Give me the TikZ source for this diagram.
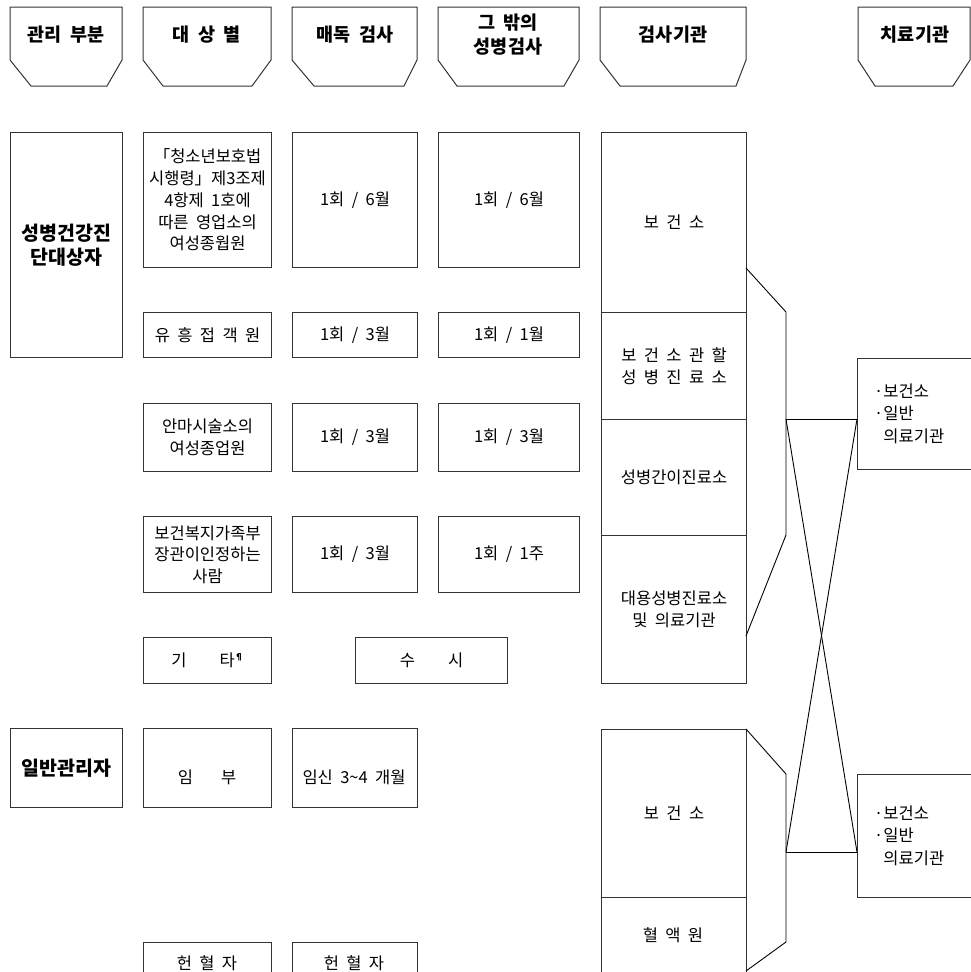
\documentclass[tikz,border=0pt]{standalone}
\usepackage{fontspec}
\setmainfont{Noto Sans CJK KR}[WordSpace=2.0]
\newcommand\hdrshape[4]{\draw[hdline] (#1,7) -- (#2,7) -- (#2,60) -- (#4,86) -- (#3,86) -- (#1,60) -- cycle;}
\begin{document}
\begin{tikzpicture}[x=1pt,y=-1pt,
  hdline/.style={draw=black!80, line width=1pt},
  bx/.style={draw=black!80, line width=1.1pt, inner sep=0pt, anchor=north west, align=center,
             font=\fontsize{16.5}{21.7}\selectfont},
  bbx/.style={bx, font=\bfseries\fontsize{19.5}{24}\selectfont},
  hd/.style={inner sep=0pt, align=center, font=\bfseries\fontsize{18.5}{24}\selectfont},
  tx/.style={inner sep=0pt, align=center, font=\fontsize{16.5}{21.7}\selectfont},
  conn/.style={draw=black, line width=0.9pt}]
\useasboundingbox (0,0) rectangle (971,972);

% headers
\hdrshape{10}{122}{31}{107}
\node[hd] (h1) at (66,35) {관리 부분};
\hdrshape{143}{271}{163}{252}
\node[hd] (h2) at (207,35) {대 상 별};
\hdrshape{292}{417}{314}{404}
\node[hd] (h3) at (355,35) {매독 검사};
\hdrshape{438}{579}{457}{564}
\node[hd] (h4) at (508,35) {그 밖의\\성병검사};
\hdrshape{600}{746}{620}{736}
\node[hd] (h5) at (673,35) {검사기관};
\hdrshape{858}{970}{875}{953}
\node[hd] (h6) at (915,35) {치료기관};

% management
\node[bbx, minimum width=112pt, minimum height=225pt] (m1) at (10,132) {성병건강진\\단대상자};
\node[bbx, minimum width=112pt, minimum height=79pt] (m2) at (10,728) {일반관리자};

% column: targets
\node[bx, minimum width=128pt, minimum height=135pt] (a1) at (143,132) {「청소년보호법\\시행령」제3조제\\4항제 1호에\\따른 영업소의\\여성종웝원};
\node[bx, minimum width=128pt, minimum height=45pt] (a2) at (143,312) {유 흥 접 객 원};
\node[bx, minimum width=128pt, minimum height=68pt] (a3) at (143,403) {안마시술소의\\여성종업원};
\node[bx, minimum width=128pt, minimum height=76pt] (a4) at (143,516) {보건복지가족부\\장관이인정하는\\사람};
\node[bx, minimum width=128pt, minimum height=46pt] (a5) at (143,637) {기\hspace{2em}타\raisebox{0.35em}{\fontsize{9}{9}\selectfont\bfseries ¶}};
\node[bx, minimum width=128pt, minimum height=79pt] (a6) at (143,728) {};
\node[tx] (a6t) at (207,777) {임\hspace{1.7em}부};
\node[bx, minimum width=128pt, minimum height=45pt] (a7) at (143,942) {};
\node[tx] (a7t) at (207,963) {헌 혈 자};

% column: syphilis
\node[bx, minimum width=125pt, minimum height=135pt] (b1) at (292,132) {1회 / 6월};
\node[bx, minimum width=125pt, minimum height=45pt] (b2) at (292,312) {1회 / 3월};
\node[bx, minimum width=125pt, minimum height=68pt] (b3) at (292,403) {1회 / 3월};
\node[bx, minimum width=125pt, minimum height=76pt] (b4) at (292,516) {1회 / 3월};
\node[bx, minimum width=125pt, minimum height=79pt] (b6) at (292,728) {};
\node[tx] (b6t) at (354,777) {임신 3\textasciitilde4 개월};
\node[bx, minimum width=125pt, minimum height=45pt] (b7) at (292,942) {};
\node[tx] (b7t) at (354,963) {헌 혈 자};

% column: other STD tests
\node[bx, minimum width=141pt, minimum height=135pt] (c1) at (438,132) {1회 / 6월};
\node[bx, minimum width=141pt, minimum height=45pt] (c2) at (438,312) {1회 / 1월};
\node[bx, minimum width=141pt, minimum height=68pt] (c3) at (438,403) {1회 / 3월};
\node[bx, minimum width=141pt, minimum height=76pt] (c4) at (438,516) {1회 / 1주};
\node[bx, minimum width=152pt, minimum height=46pt] (c5) at (355,637) {수\hspace{2em}시};

% examination institutions
\node[bx, minimum width=145pt, minimum height=180pt] (e1) at (601,132) {보 건 소};
\node[bx, minimum width=145pt, minimum height=107pt] (e2) at (601,312) {보 건 소 관 할\\성 병 진 료 소};
\node[bx, minimum width=145pt, minimum height=116pt] (e3) at (601,419) {성병간이진료소};
\node[bx, minimum width=145pt, minimum height=148pt] (e4) at (601,535) {대용성병진료소\\및 의료기관};
\node[bx, minimum width=145pt, minimum height=168pt] (e5) at (601,729) {보 건 소};
\node[bx, minimum width=145pt, minimum height=90pt] (e6) at (601,897) {};
\node[tx] (e6t) at (673,935) {혈 액 원};

% treatment institutions
\node[bx, minimum width=125pt, minimum height=111pt] (t1) at (857,358) {};
\node[tx, align=left, anchor=west] (t1t) at (874,414) {·보건소\\·일반\\[2pt]\phantom{·}의료기관};
\node[bx, minimum width=125pt, minimum height=123pt] (t2) at (857,774) {};
\node[tx, align=left, anchor=west] (t2t) at (874,836) {·보건소\\·일반\\[2pt]\phantom{·}의료기관};

% connectors
\coordinate (u1) at (746,268);
\coordinate (u2) at (786,312);
\coordinate (uj) at (786,419);
\coordinate (u3) at (786,535);
\coordinate (u4) at (746,636);
\coordinate (t1j) at (857,419);
\coordinate (l1) at (746,729);
\coordinate (l2) at (786,774);
\coordinate (lj) at (786,852);
\coordinate (l3) at (786,942);
\coordinate (l4) at (746,971);
\coordinate (t2j) at (857,852);

\draw[conn] (u1) -- (u2) -- (u3) -- (u4);
\draw[conn] (uj) -- (t1j);
\draw[conn] (uj) -- (t2j);
\draw[conn] (t1j) -- (lj);
\draw[conn] (l1) -- (l2) -- (l3) -- (l4);
\draw[conn] (lj) -- (t2j);
\end{tikzpicture}
\end{document}
